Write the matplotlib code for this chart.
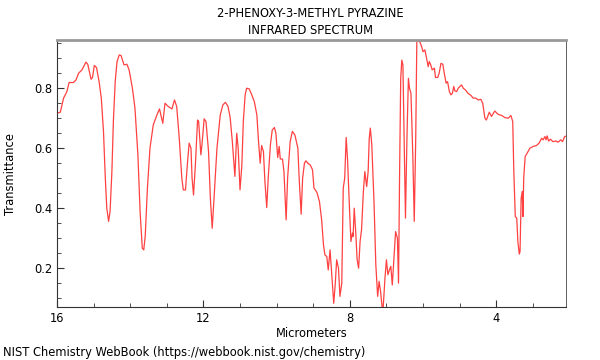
import matplotlib
matplotlib.use("Agg")
import matplotlib.pyplot as plt
from matplotlib.ticker import MultipleLocator

# wavelength in micrometers
wavelength = [
    16.00, 15.91, 15.82, 15.73, 15.67, 15.55, 15.48, 15.41, 15.32, 15.21,
    15.16, 15.07, 15.03, 14.98, 14.92, 14.85, 14.79, 14.73, 14.68, 14.64,
    14.59, 14.55, 14.50, 14.46, 14.41, 14.36, 14.30, 14.25, 14.17, 14.09,
    14.03, 13.94, 13.87, 13.79, 13.73, 13.67, 13.63, 13.59, 13.53, 13.46,
    13.37, 13.27, 13.20, 13.11, 13.05, 12.96, 12.86, 12.79, 12.73, 12.66,
    12.59, 12.55, 12.49, 12.44, 12.39, 12.34, 12.31, 12.27, 12.22, 12.16,
    12.13, 12.07, 12.04, 11.98, 11.93, 11.86, 11.81, 11.76, 11.71, 11.63,
    11.54, 11.47, 11.40, 11.33, 11.27, 11.21, 11.14, 11.09, 11.05, 11.00,
    10.95, 10.91, 10.86, 10.82, 10.75, 10.68, 10.61, 10.54, 10.50, 10.45,
    10.41, 10.36, 10.32, 10.27, 10.23, 10.17, 10.12, 10.06, 10.02, 9.97,
    9.93, 9.90, 9.84, 9.80, 9.74, 9.70, 9.63, 9.57, 9.50, 9.42,
    9.38, 9.33, 9.29, 9.24, 9.20, 9.15, 9.08, 9.02, 8.98, 8.90,
    8.83, 8.77, 8.72, 8.68, 8.63, 8.59, 8.54, 8.50, 8.44, 8.40,
    8.36, 8.31, 8.27, 8.22, 8.18, 8.14, 8.10, 8.06, 8.01, 7.97,
    7.93, 7.91, 7.88, 7.84, 7.80, 7.76, 7.72, 7.68, 7.63, 7.59,
    7.54, 7.50, 7.47, 7.44, 7.40, 7.34, 7.29, 7.24, 7.20, 7.16,
    7.12, 7.09, 7.04, 7.00, 6.96, 6.92, 6.88, 6.84, 6.79, 6.75,
    6.70, 6.67, 6.64, 6.61, 6.58, 6.55, 6.51, 6.48, 6.44, 6.40,
    6.37, 6.33, 6.28, 6.24, 6.20, 6.17, 6.13, 6.08, 6.04, 6.00,
    5.95, 5.90, 5.86, 5.83, 5.79, 5.75, 5.69, 5.66, 5.60, 5.56,
    5.51, 5.46, 5.42, 5.37, 5.33, 5.28, 5.24, 5.20, 5.16, 5.13,
    5.08, 5.04, 4.99, 4.95, 4.90, 4.84, 4.77, 4.69, 4.63, 4.56,
    4.49, 4.42, 4.37, 4.31, 4.27, 4.19, 4.13, 4.04, 3.95, 3.85,
    3.76, 3.67, 3.60, 3.55, 3.52, 3.48, 3.44, 3.41, 3.37, 3.35,
    3.32, 3.29, 3.27, 3.25, 3.21, 3.16, 3.08, 2.99, 2.90, 2.83,
    2.76, 2.72, 2.67, 2.64, 2.61, 2.57, 2.52, 2.45, 2.37, 2.31,
    2.24, 2.19, 2.13, 2.10,
]

transmittance = [
    0.717, 0.720, 0.767, 0.789, 0.819, 0.819, 0.828, 0.850, 0.861, 0.887,
    0.880, 0.830, 0.836, 0.876, 0.869, 0.822, 0.767, 0.656, 0.500, 0.400,
    0.356, 0.390, 0.523, 0.689, 0.822, 0.889, 0.911, 0.909, 0.878, 0.880,
    0.861, 0.800, 0.733, 0.578, 0.389, 0.267, 0.261, 0.307, 0.467, 0.600,
    0.678, 0.711, 0.731, 0.683, 0.750, 0.739, 0.731, 0.761, 0.739, 0.633,
    0.500, 0.461, 0.461, 0.544, 0.617, 0.600, 0.500, 0.444, 0.544, 0.694,
    0.689, 0.578, 0.611, 0.698, 0.689, 0.589, 0.433, 0.333, 0.433, 0.600,
    0.711, 0.744, 0.753, 0.740, 0.703, 0.622, 0.506, 0.650, 0.600, 0.461,
    0.544, 0.689, 0.778, 0.800, 0.798, 0.778, 0.756, 0.711, 0.633, 0.550,
    0.609, 0.589, 0.489, 0.402, 0.500, 0.611, 0.661, 0.669, 0.650, 0.569,
    0.606, 0.564, 0.564, 0.522, 0.361, 0.500, 0.622, 0.656, 0.644, 0.600,
    0.489, 0.380, 0.500, 0.550, 0.558, 0.550, 0.544, 0.528, 0.467, 0.453,
    0.422, 0.361, 0.278, 0.244, 0.239, 0.194, 0.261, 0.189, 0.083, 0.144,
    0.228, 0.200, 0.106, 0.150, 0.467, 0.500, 0.636, 0.556, 0.400, 0.289,
    0.317, 0.306, 0.400, 0.322, 0.228, 0.200, 0.289, 0.328, 0.456, 0.522,
    0.472, 0.522, 0.633, 0.667, 0.611, 0.422, 0.211, 0.106, 0.156, 0.122,
    0.072, 0.067, 0.167, 0.228, 0.178, 0.194, 0.206, 0.144, 0.244, 0.322,
    0.300, 0.150, 0.522, 0.833, 0.894, 0.878, 0.578, 0.367, 0.633, 0.833,
    0.800, 0.783, 0.578, 0.356, 0.633, 0.956, 0.958, 0.953, 0.939, 0.922,
    0.928, 0.898, 0.872, 0.889, 0.878, 0.861, 0.867, 0.836, 0.836, 0.850,
    0.883, 0.880, 0.850, 0.817, 0.822, 0.789, 0.778, 0.783, 0.806, 0.791,
    0.789, 0.800, 0.806, 0.811, 0.800, 0.794, 0.783, 0.776, 0.767, 0.767,
    0.761, 0.763, 0.750, 0.700, 0.694, 0.720, 0.706, 0.724, 0.713, 0.709,
    0.702, 0.700, 0.709, 0.689, 0.522, 0.372, 0.367, 0.289, 0.247, 0.256,
    0.433, 0.456, 0.372, 0.500, 0.572, 0.583, 0.600, 0.606, 0.609, 0.617,
    0.633, 0.628, 0.639, 0.628, 0.641, 0.624, 0.630, 0.622, 0.624, 0.620,
    0.628, 0.622, 0.639, 0.640,
]

title_lines = ["2-PHENOXY-3-METHYL PYRAZINE", "INFRARED SPECTRUM"]
x_label = "Micrometers"
y_label = "Transmittance"
footer = "NIST Chemistry WebBook (https://webbook.nist.gov/chemistry)"

fs = 8.3
plt.rcParams["font.family"] = "DejaVu Sans"
plt.rcParams["font.size"] = fs

fig = plt.figure(figsize=(6, 3.6), dpi=100)
ax = fig.add_axes([0.095, 0.146, 0.848, 0.743])

ax.plot(wavelength, transmittance, color="#ff2020", lw=0.9, alpha=0.85)

ax.set_xlim(16, 2.1)
ax.set_ylim(0.069, 0.961)

ax.xaxis.set_major_locator(MultipleLocator(4))
ax.xaxis.set_minor_locator(MultipleLocator(1))
ax.yaxis.set_major_locator(MultipleLocator(0.2))
ax.yaxis.set_minor_locator(MultipleLocator(0.05))
ax.tick_params(which="both", direction="in", top=False, right=False,
               labelsize=fs, color="#333333")
ax.tick_params(which="major", length=5, width=0.8)
ax.tick_params(which="minor", length=3, width=0.6)

ax.spines["top"].set_color("#999999")
ax.spines["top"].set_linewidth(2)
ax.spines["right"].set_color("#444444")
ax.spines["right"].set_linewidth(0.6)
ax.spines["left"].set_color("#333333")
ax.spines["bottom"].set_color("#333333")

ax.set_xlabel(x_label, fontsize=fs, labelpad=1)
ax.set_ylabel(y_label, fontsize=fs, labelpad=12)

fig.text(0.518, 0.962, title_lines[0], ha="center", va="center", fontsize=fs)
fig.text(0.518, 0.916, title_lines[1], ha="center", va="center", fontsize=fs)
fig.text(0.005, 0.022, footer, ha="left", va="center", fontsize=fs)

fig.savefig("out.png", dpi=100)
